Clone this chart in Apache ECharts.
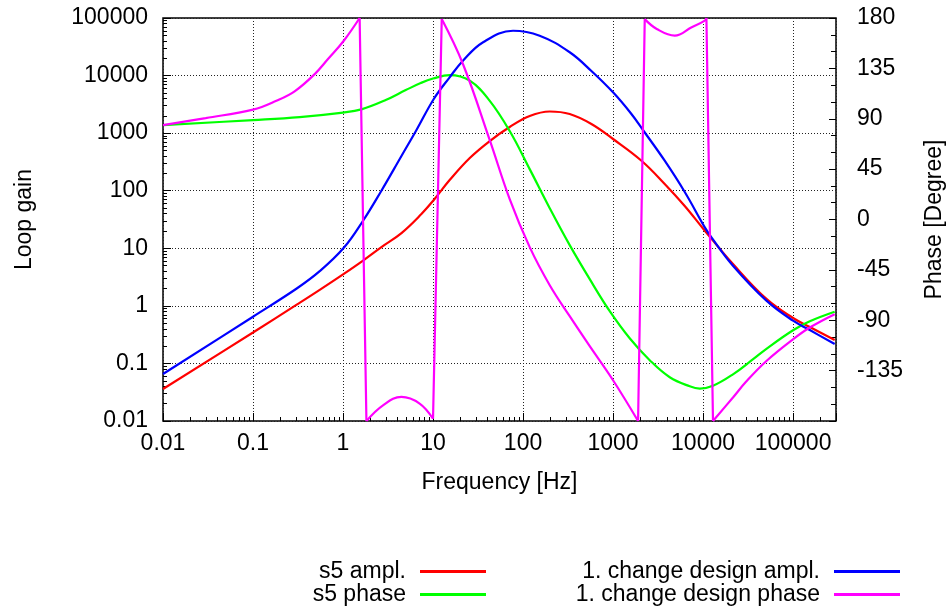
<!DOCTYPE html>
<html>
<head>
<meta charset="utf-8">
<script src="https://cdn.jsdelivr.net/npm/echarts@6/dist/echarts.min.js"></script>
<style>
html, body { margin: 0; padding: 0; background: #fff; }
#loop { width: 950px; height: 607px; }
</style>
</head>
<body>
<div id="loop"></div>
<script>
// values (frequency in Hz, gain, phase in degree)
var s5AmplFreq = [0.01, 0.1, 0.306, 0.551, 1.02, 1.67, 2.67, 4.46, 7.43, 10.2, 15.3, 25.6, 42.7, 71.1, 118.6, 198, 330, 575, 1000, 2070, 3750, 6260, 10460, 21500, 50600, 100000, 153500, 290000];
var s5AmplGain = [0.036, 0.344, 1.05, 1.9, 3.6, 6.13, 10.5, 18.4, 39.4, 69, 153, 370, 730, 1279, 1985, 2377, 2150, 1442, 791, 332, 131, 54.2, 20.2, 5.33, 1.32, 0.615, 0.43, 0.255];

var s5PhaseFreq = [0.01, 0.1, 0.33, 1.0, 1.6, 2.98, 4.98, 7.3, 10.0, 15.3, 25.6, 42.7, 71.1, 118.6, 198, 330, 551, 919, 1531, 2556, 4266, 7112, 9190, 12900, 21500, 36000, 50600, 100000, 153500, 290000];
var s5Phase = [84.3, 88.8, 91.5, 95.5, 98.4, 106.7, 115.6, 121.9, 125.9, 129, 124, 106, 79, 45, 10.1, -22.9, -53.3, -81.9, -106.1, -125.7, -140.9, -149, -151, -148.5, -138.3, -124.8, -115.5, -98.9, -90.9, -82.4];

var chgAmplFreq = [0.01, 0.1, 0.306, 0.551, 1.02, 1.67, 2.67, 4.46, 6.55, 10.2, 15.3, 21.5, 36, 77.4, 153, 330, 575, 1000, 1600, 2190, 3750, 6260, 10460, 12400, 21500, 50600, 100000, 153500, 290000];
var chgAmplGain = [0.0655, 0.648, 2.0, 4.0, 10.2, 30.1, 100, 401, 1134, 3920, 9330, 18100, 37900, 60100, 49300, 25400, 12000, 5110, 2150, 1090, 332, 95, 23.1, 15.5, 4.98, 1.23, 0.552, 0.38, 0.217];

// phase of the changed design wraps at +-180, one array per branch
var chgPhaseFreq = [
    [0.01, 0.0298, 0.1, 0.182, 0.29, 0.485, 0.681, 1.02, 1.53],
    [1.82, 2.78, 4.46, 7.1, 10.0],
    [12.5, 21.5, 42.7, 71.1, 118.6, 198, 330, 551, 1000, 1897],
    [2250, 3060, 4850, 7480, 10460, 10900],
    [12900, 21500, 30000, 50600, 100000, 153500, 290000]
];
var chgPhase = [
    [84.3, 90.6, 98.2, 106.1, 114.5, 129.9, 143.3, 159.7, 180],
    [-180, -166, -158.5, -164.4, -178],
    [179.1, 138.9, 70.9, 18.2, -24.7, -58.7, -86.4, -113.2, -143.6, -180],
    [179, 170.2, 164.2, 171.7, 177.6, 180],
    [-180, -159, -145, -126.4, -107, -96.5, -84.6]
];

var xTicks = [0.01, 0.1, 1, 10, 100, 1000, 10000, 100000];
var phaseTicks = [-135, -90, -45, 0, 45, 90, 135, 180];

var font = "'Liberation Sans', Arial, sans-serif";

function pairs(xs, ys) {
    return xs.map(function (x, i) { return [x, ys[i]]; });
}

// branches joined with gaps, plus the straight jumps gnuplot draws between them
var chgPhaseData = [];
var chgJumpData = [];
chgPhaseFreq.forEach(function (fs, b) {
    if (b > 0) chgPhaseData.push([fs[0], null]);
    chgPhaseData = chgPhaseData.concat(pairs(fs, chgPhase[b]));
    if (b < chgPhaseFreq.length - 1) {
        var last = fs.length - 1;
        chgJumpData.push([fs[last], chgPhase[b][last]]);
        chgJumpData.push([chgPhaseFreq[b + 1][0], chgPhase[b + 1][0]]);
        chgJumpData.push([chgPhaseFreq[b + 1][0], null]);
    }
});

// minor tick positions (2..9 of every decade), in log10 units
function minorLog(lo, hi) {
    var out = [];
    for (var d = Math.floor(lo); d < hi; d++) {
        for (var k = 2; k <= 9; k++) {
            var v = d + Math.log10(k);
            if (v > lo && v < hi) out.push(v);
        }
    }
    return out;
}
var xMin = 0.01, xMax = 300000, yMin = 0.01, yMax = 100000;

var dotted = { show: true, lineStyle: { color: '#222', width: 1, type: [1, 2] } };
var smoothness = 0.4;

var option = {
    animation: false,
    backgroundColor: '#fff',
    textStyle: { fontFamily: font },
    grid: {
        left: 163, top: 18, right: 114, bottom: 186, containLabel: false, outerBoundsMode: 'none',
        show: true, borderColor: '#000', borderWidth: 1.5, backgroundColor: 'transparent'
    },
    xAxis: [
        {
            type: 'log', logBase: 10, min: xMin, max: xMax, splitNumber: 8,
            name: 'Frequency [Hz]', nameLocation: 'middle', nameGap: 50,
            nameTextStyle: { fontSize: 23, color: '#000', fontFamily: font },
            axisLine: { show: false, onZero: false },
            axisTick: { show: true, inside: true, length: 8, lineStyle: { color: '#000' } },
            axisLabel: {
                fontSize: 23, color: '#000', fontFamily: font, margin: 11,
                formatter: function (v) { return xTicks.indexOf(v) >= 0 ? String(v) : ''; }
            },
            splitLine: dotted
        },
        {
            type: 'value', min: Math.log10(xMin), max: Math.log10(xMax), position: 'bottom',
            axisLine: { show: false, onZero: false }, axisLabel: { show: false }, splitLine: { show: false },
            axisTick: { show: true, inside: true, length: 4, lineStyle: { color: '#000' },
                customValues: minorLog(Math.log10(xMin), Math.log10(xMax)) }
        }
    ],
    yAxis: [
        {
            type: 'log', logBase: 10, min: yMin, max: yMax, splitNumber: 8, position: 'left',
            name: 'Loop gain', nameLocation: 'middle', nameGap: 127, nameRotate: 90,
            nameTextStyle: { fontSize: 23, color: '#000', fontFamily: font },
            axisLine: { show: false, onZero: false },
            axisTick: { show: true, inside: true, length: 8, lineStyle: { color: '#000' } },
            axisLabel: { fontSize: 23, color: '#000', fontFamily: font, margin: 15,
                formatter: function (v) { return String(v); } },
            splitLine: dotted
        },
        {
            type: 'value', min: -180, max: 180, interval: 45, position: 'right',
            name: 'Phase [Degree]', nameLocation: 'middle', nameGap: 87, nameRotate: 90,
            nameTextStyle: { fontSize: 23, color: '#000', fontFamily: font },
            axisLine: { show: false, onZero: false },
            axisTick: { show: true, inside: true, length: 7, lineStyle: { color: '#000' } },
            minorTick: { show: true, splitNumber: 3, length: 5, lineStyle: { color: '#000' } },
            axisLabel: { fontSize: 23, color: '#000', fontFamily: font, margin: 21,
                formatter: function (v) { return phaseTicks.indexOf(v) >= 0 ? String(v) : ''; } },
            splitLine: { show: false }
        },
        {
            type: 'value', min: Math.log10(yMin), max: Math.log10(yMax), position: 'left',
            axisLine: { show: false, onZero: false }, axisLabel: { show: false }, splitLine: { show: false },
            axisTick: { show: true, inside: true, length: 4, lineStyle: { color: '#000' },
                customValues: minorLog(Math.log10(yMin), Math.log10(yMax)) }
        }
    ],
    legend: [
        {
            data: ['s5 ampl.', 's5 phase'], orient: 'vertical', align: 'right',
            right: 464, top: 560, padding: 0, itemGap: 0, itemWidth: 66, itemHeight: 3, icon: 'rect',
            textStyle: { fontSize: 23, lineHeight: 23, color: '#000', fontFamily: font, padding: [0, 9, 0, 0] }
        },
        {
            data: ['1. change design ampl.', '1. change design phase'], orient: 'vertical', align: 'right',
            right: 50, top: 560, padding: 0, itemGap: 0, itemWidth: 66, itemHeight: 3, icon: 'rect',
            textStyle: { fontSize: 23, lineHeight: 23, color: '#000', fontFamily: font, padding: [0, 9, 0, 0] }
        }
    ],
    series: [
        {
            name: 's5 ampl.', type: 'line', xAxisIndex: 0, yAxisIndex: 0, smooth: smoothness, symbol: 'none',
            data: pairs(s5AmplFreq, s5AmplGain),
            color: '#ff0000', lineStyle: { color: '#ff0000', width: 2.2 }
        },
        {
            name: 's5 phase', type: 'line', xAxisIndex: 0, yAxisIndex: 1, smooth: smoothness, symbol: 'none',
            data: pairs(s5PhaseFreq, s5Phase),
            color: '#00ff00', lineStyle: { color: '#00ff00', width: 2.2 }
        },
        {
            name: '1. change design ampl.', type: 'line', xAxisIndex: 0, yAxisIndex: 0, smooth: smoothness, symbol: 'none',
            data: pairs(chgAmplFreq, chgAmplGain),
            color: '#0000ff', lineStyle: { color: '#0000ff', width: 2.2 }
        },
        {
            name: '1. change design phase', type: 'line', xAxisIndex: 0, yAxisIndex: 1, smooth: smoothness, symbol: 'none',
            data: chgPhaseData,
            color: '#ff00ff', lineStyle: { color: '#ff00ff', width: 2.2 }
        },
        {
            name: '1. change design phase', type: 'line', xAxisIndex: 0, yAxisIndex: 1, smooth: false, symbol: 'none',
            data: chgJumpData,
            color: '#ff00ff', lineStyle: { color: '#ff00ff', width: 2.2 }
        }
    ]
};

var loopContainer = document.getElementById('loop');
var loop = echarts.init(loopContainer);
loop.setOption(option);
</script>
</body>
</html>
